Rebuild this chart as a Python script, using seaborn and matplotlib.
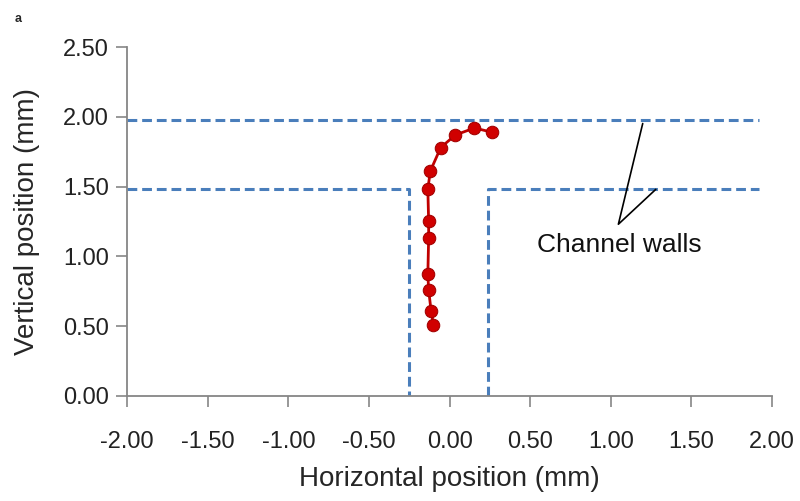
import numpy as np
import pandas as pd
import seaborn as sns
import matplotlib.pyplot as plt

# Particle trajectory (mm)
horizontal = [-0.10, -0.115, -0.13, -0.135, -0.13, -0.13, -0.135, -0.12, -0.055, 0.036, 0.154, 0.262]
vertical = [0.51, 0.61, 0.76, 0.87, 1.13, 1.25, 1.48, 1.61, 1.78, 1.87, 1.92, 1.89]

# Channel wall outlines (mm)
top_wall_x = [-2.00, 1.92]
top_wall_y = [1.98, 1.98]
left_wall_x = [-2.00, -0.25, -0.25]
left_wall_y = [1.48, 1.48, 0.00]
right_wall_x = [0.24, 0.24, 1.92]
right_wall_y = [0.00, 1.48, 1.48]

x_ticks = [-2.0, -1.5, -1.0, -0.5, 0.0, 0.5, 1.0, 1.5, 2.0]
y_ticks = [0.0, 0.5, 1.0, 1.5, 2.0, 2.5]

df = pd.DataFrame({'x': horizontal, 'y': vertical})

sns.set_style('white')
plt.rcParams['font.family'] = ['Liberation Sans', 'DejaVu Sans']

fig = plt.figure(figsize=(8, 5.01), dpi=100)
ax = fig.add_axes([0.159, 0.21, 0.806, 0.696])

wall_color = '#4A7EBB'
for wx, wy in [(top_wall_x, top_wall_y), (left_wall_x, left_wall_y), (right_wall_x, right_wall_y)]:
    ax.plot(wx, wy, color=wall_color, linestyle=(0, (3.2, 1.6)), linewidth=2.2)

# estimator=None so repeated x values are not averaged together
sns.lineplot(data=df, x='x', y='y', sort=False, estimator=None, ax=ax, color='#C00000',
             linewidth=2, marker='o', markersize=9,
             markerfacecolor='#D00000', markeredgecolor='#A00000', zorder=5)

# annotation for channel walls
ax.plot([1.198, 1.047, 1.279], [1.952, 1.23, 1.48], color='black', linewidth=1.2)
ax.text(1.05, 1.08, 'Channel walls', fontsize=19, ha='center', va='center', color='#111111')

ax.set_xlim(-2, 2)
ax.set_ylim(0, 2.5)
ax.set_xticks(x_ticks)
ax.set_yticks(y_ticks)
ax.set_xticklabels([f'{t:.2f}' for t in x_ticks], fontsize=17)
ax.set_yticklabels([f'{t:.2f}' for t in y_ticks], fontsize=17)
ax.set_xlabel('Horizontal position (mm)', fontsize=20, labelpad=10)
ax.set_ylabel('Vertical position (mm)', fontsize=20, labelpad=17)

for side in ['top', 'right']:
    ax.spines[side].set_visible(False)
for side in ['left', 'bottom']:
    ax.spines[side].set_color('#868686')
    ax.spines[side].set_linewidth(1.3)
ax.tick_params(axis='both', bottom=True, left=True, direction='out', length=8, width=1.2,
               color='#868686', labelcolor='#222222')
ax.tick_params(axis='x', pad=17)
ax.tick_params(axis='y', pad=5)

fig.text(0.018, 0.975, 'a', fontsize=9, fontweight='bold', va='top')

fig.savefig('out.png', dpi=100, facecolor='white')
